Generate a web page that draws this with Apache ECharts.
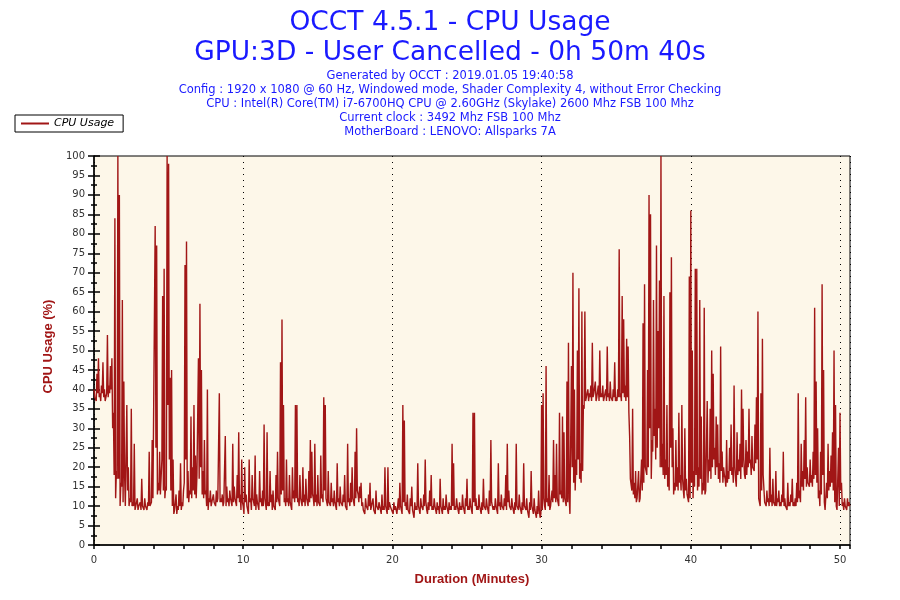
<!DOCTYPE html>
<html><head><meta charset="utf-8">
<script src="https://cdn.jsdelivr.net/npm/echarts@6/dist/echarts.min.js"></script>
<style>html,body{margin:0;padding:0;background:#fff}#c{width:900px;height:600px}</style>
</head><body><div id="c"></div>
<script>
// CPU usage (%).
// "peak" arrays: reading at each 0.1-minute slot; "trough" arrays: the low reading just after it.
const stepMinutes = 0.1;
const peak00to10 = [
  40,38,44,48,39,41,47,40,38,54,
  41,46,48,34,84,19,100,90,16,63,
  42,10,36,20,12,35,11,26,10,12,
  10,11,17,10,12,10,11,24,10,27,
  12,82,77,16,24,13,64,71,15,100,
  98,43,45,22,9,13,10,14,21,11,
  14,72,78,19,14,33,20,36,23,18,
  48,62,45,19,27,14,40,12,14,11,
  13,11,14,12,39,12,13,11,28,15,
  12,14,11,26,15,12,18,29,13,22
];
const trough00to10 = [
  38,37,39,38,37,39,38,37,39,38,
  39,40,30,18,12,17,17,10,15,11,
  18,10,14,10,11,10,10,9,10,9,
  10,9,10,9,10,9,10,10,11,12,
  12,25,13,14,13,22,14,12,14,36,
  22,14,10,8,9,8,9,10,9,10,
  16,22,12,11,13,12,14,13,12,18,
  17,20,13,12,13,10,9,11,10,11,
  11,10,11,12,11,11,10,11,10,11,
  10,12,10,11,12,10,12,11,9,11
];
const peak10to20 = [
  10,20,13,9,22,12,18,11,23,13,
  10,19,12,14,31,12,29,11,19,13,
  14,10,18,24,11,47,58,36,12,22,
  12,18,10,20,14,36,36,12,18,11,
  20,13,17,11,19,27,24,12,26,13,
  18,11,23,13,38,36,12,19,11,16,
  12,14,10,21,12,15,11,13,18,10,
  26,12,16,20,11,24,30,13,15,16,
  11,9,12,10,13,16,10,12,9,14,
  10,11,9,13,10,20,9,20,11,10
];
const trough10to20 = [
  8,11,10,8,11,9,12,10,9,11,
  9,11,10,10,12,9,10,10,11,9,
  10,9,11,12,10,13,14,11,10,11,
  10,11,9,12,11,12,11,10,12,10,
  11,10,12,10,11,12,13,10,11,10,
  11,10,12,11,14,12,10,11,10,11,
  10,11,9,11,10,11,10,11,10,9,
  11,10,11,12,10,12,14,11,12,10,
  9,8,10,9,10,9,10,9,8,10,
  9,10,8,9,9,10,8,9,10,9
];
const peak20to30 = [
  9,11,10,8,12,16,9,36,32,11,
  13,9,12,15,8,11,10,21,9,12,
  10,13,22,9,11,14,18,10,12,9,
  11,10,17,9,12,10,13,9,11,10,
  26,21,10,12,9,11,10,13,9,12,
  17,10,12,9,34,34,12,10,13,9,
  11,17,10,12,9,14,27,11,10,12,
  9,21,11,13,10,12,18,26,14,10,
  12,9,11,26,10,13,9,11,21,10,
  12,8,11,19,9,12,8,10,14,7
];
const trough20to30 = [
  8,9,9,8,9,10,8,11,10,9,
  9,8,10,9,7,9,9,10,8,10,
  9,10,11,8,9,10,9,9,10,8,
  9,8,10,8,9,9,10,8,9,9,
  10,9,9,10,8,9,9,10,8,10,
  9,9,10,8,11,10,9,9,10,8,
  9,10,9,10,8,10,11,9,9,10,
  8,10,9,10,9,10,9,11,10,9,
  10,8,9,10,9,10,8,9,10,9,
  9,7,9,10,8,9,7,8,9,8
];
const peak30to40 = [
  36,39,10,46,12,18,10,14,27,18,
  26,12,34,14,33,29,11,42,52,8,
  46,70,40,22,50,66,21,60,36,60,
  38,40,39,41,52,39,42,38,41,50,
  39,41,38,40,51,39,42,38,40,47,
  38,40,76,39,64,58,41,53,51,28,
  17,35,16,19,12,19,12,22,57,67,
  20,45,90,85,27,63,35,77,55,68,
  100,26,64,22,36,20,65,74,30,16,
  27,20,34,18,36,14,30,17,12,69
];
const trough30to40 = [
  9,12,9,11,10,9,10,11,12,11,
  12,10,13,12,11,12,10,11,12,8,
  20,16,14,18,22,17,16,19,35,37,
  38,37,38,37,38,39,37,38,37,38,
  38,37,38,37,38,37,38,37,38,37,
  37,38,38,37,39,38,37,38,34,17,
  14,13,12,11,12,11,12,14,16,20,
  18,20,30,17,24,28,22,25,30,20,
  20,18,17,18,15,14,25,20,13,14,
  15,14,16,14,17,12,14,13,11,12
];
const peak40to51 = [
  86,50,19,71,71,20,63,33,16,61,
  14,37,22,35,50,44,25,33,31,21,
  51,24,20,17,27,19,25,31,20,41,
  17,29,22,26,40,35,18,27,24,35,
  22,28,20,31,38,60,12,39,53,18,
  11,14,12,25,13,17,11,19,12,14,
  11,13,24,12,10,16,11,13,17,11,
  12,16,39,14,26,19,27,38,20,16,
  22,18,24,61,42,30,14,24,67,45,
  9,16,26,19,23,29,50,36,9,25,
  34,16,11,12,10,12,11
];
const trough40to51 = [
  16,12,15,18,14,15,17,13,14,13,
  14,16,19,17,20,22,18,20,17,16,
  19,16,18,15,16,17,19,18,16,20,
  15,18,19,17,20,22,17,18,20,21,
  18,20,19,21,22,12,10,14,18,11,
  10,11,10,11,10,11,10,10,11,10,
  10,11,10,10,9,10,10,11,10,10,
  10,11,12,11,15,14,17,15,16,15,
  16,15,17,18,16,12,10,13,18,11,
  9,12,14,15,16,14,11,10,9,10,
  14,10,9,10,9,10,10
];
const durationMax = 50.67; // 0h 50m 40s
const xTickLabels = ['0','10','20','30','40','50'];
const subtitleLines = [
  'Generated by OCCT : 2019.01.05 19:40:58',
  'Config : 1920 x 1080 @ 60 Hz, Windowed mode, Shader Complexity 4, without Error Checking',
  'CPU : Intel(R) Core(TM) i7-6700HQ CPU @ 2.60GHz (Skylake) 2600 Mhz FSB 100 Mhz',
  'Current clock : 3492 Mhz FSB 100 Mhz',
  'MotherBoard : LENOVO: Allsparks 7A'
];

const peaks = [].concat(peak00to10, peak10to20, peak20to30, peak30to40, peak40to51);
const troughs = [].concat(trough00to10, trough10to20, trough20to30, trough30to40, trough40to51);
const seriesData = [];
peaks.forEach((v, i) => {
  seriesData.push([+(i * stepMinutes).toFixed(3), v]);
  seriesData.push([+((i + 0.5) * stepMinutes).toFixed(3), troughs[i]]);
});

const blue = '#1a1aff';
const red = '#a11616';
const font = 'DejaVu Sans';
const chart = echarts.init(document.getElementById('c'));
chart.setOption({
  animation: false,
  backgroundColor: '#ffffff',
  title: [
    { text: 'OCCT 4.5.1 - CPU Usage', left: 'center', top: 5,
      textStyle: { color: blue, fontSize: 26.5, fontWeight: 'normal', fontFamily: font } },
    { text: 'GPU:3D - User Cancelled - 0h 50m 40s', left: 'center', top: 35,
      textStyle: { color: blue, fontSize: 26.5, fontWeight: 'normal', fontFamily: font } }
  ],
  graphic: subtitleLines.map((t, i) => ({
    type: 'text', x: 450, y: 76 + i * 14, silent: true,
    style: { text: t, align: 'center', verticalAlign: 'middle', fill: blue,
      fontSize: 11.5, fontFamily: font }
  })),
  legend: {
    left: 15, top: 115, orient: 'horizontal',
    borderColor: '#000', borderWidth: 1, padding: [3, 9, 3, 6],
    itemWidth: 28, itemHeight: 2, itemGap: 4,
    icon: 'rect',
    textStyle: { fontStyle: 'italic', fontSize: 11, color: '#000', fontFamily: font },
    data: ['CPU Usage']
  },
  grid: {
    left: 94, right: 50, top: 156, bottom: 55,
    show: true, backgroundColor: '#fdf7e9', borderColor: '#000', borderWidth: 1
  },
  xAxis: [
    { type: 'value', position: 'bottom', min: 0, max: durationMax, interval: 2,
      axisLine: { show: true, lineStyle: { color: '#000', width: 1.5 } },
      axisTick: { show: true, length: 4, lineStyle: { color: '#000', width: 1.5 } },
      axisLabel: { show: false }, splitLine: { show: false } },
    { type: 'value', position: 'bottom', min: 0, max: durationMax, interval: 10,
      name: 'Duration (Minutes)', nameLocation: 'middle', nameGap: 28,
      nameTextStyle: { color: red, fontWeight: 'bold', fontSize: 13, fontFamily: 'Liberation Sans' },
      axisLine: { show: false }, axisTick: { show: false },
      axisLabel: { color: '#333', fontSize: 10, fontFamily: font, margin: 10,
        formatter: v => (Math.abs(v - Math.round(v)) < 1e-6 && Math.round(v) % 10 === 0) ? xTickLabels[Math.round(v) / 10] : '' },
      splitLine: { show: true, lineStyle: { color: '#000', type: [1, 5], width: 1 } } }
  ],
  yAxis: [
    { type: 'value', position: 'left', min: 0, max: 100, interval: 5,
      name: 'CPU Usage (%)', nameLocation: 'middle', nameGap: 38, nameRotate: 90,
      nameTextStyle: { color: red, fontWeight: 'bold', fontSize: 13, fontFamily: 'Liberation Sans', padding: [0, 0, 0, 8] },
      axisLine: { show: true, lineStyle: { color: '#000', width: 1.5 } },
      axisTick: { show: true, length: 6, lineStyle: { color: '#000', width: 1.5 } },
      minorTick: { show: true, splitNumber: 2, length: 3, lineStyle: { color: '#000', width: 1.5 } },
      axisLabel: { color: '#333', fontSize: 10, fontFamily: font, margin: 9 },
      splitLine: { show: false } },
    { type: 'value', position: 'left', min: 0, max: 100, interval: 5,
      axisLine: { show: false },
      axisTick: { show: true, inside: true, length: 6, lineStyle: { color: '#000', width: 1.5 } },
      minorTick: { show: true, splitNumber: 2, length: 3, lineStyle: { color: '#000', width: 1.5 } },
      axisLabel: { show: false }, splitLine: { show: false } }
  ],
  series: [{
    name: 'CPU Usage', type: 'line', xAxisIndex: 0, yAxisIndex: 0,
    data: seriesData, showSymbol: false, symbol: 'none',
    lineStyle: { color: red, width: 1.4 }, itemStyle: { color: red },
    clip: true
  }]
});
</script></body></html>
